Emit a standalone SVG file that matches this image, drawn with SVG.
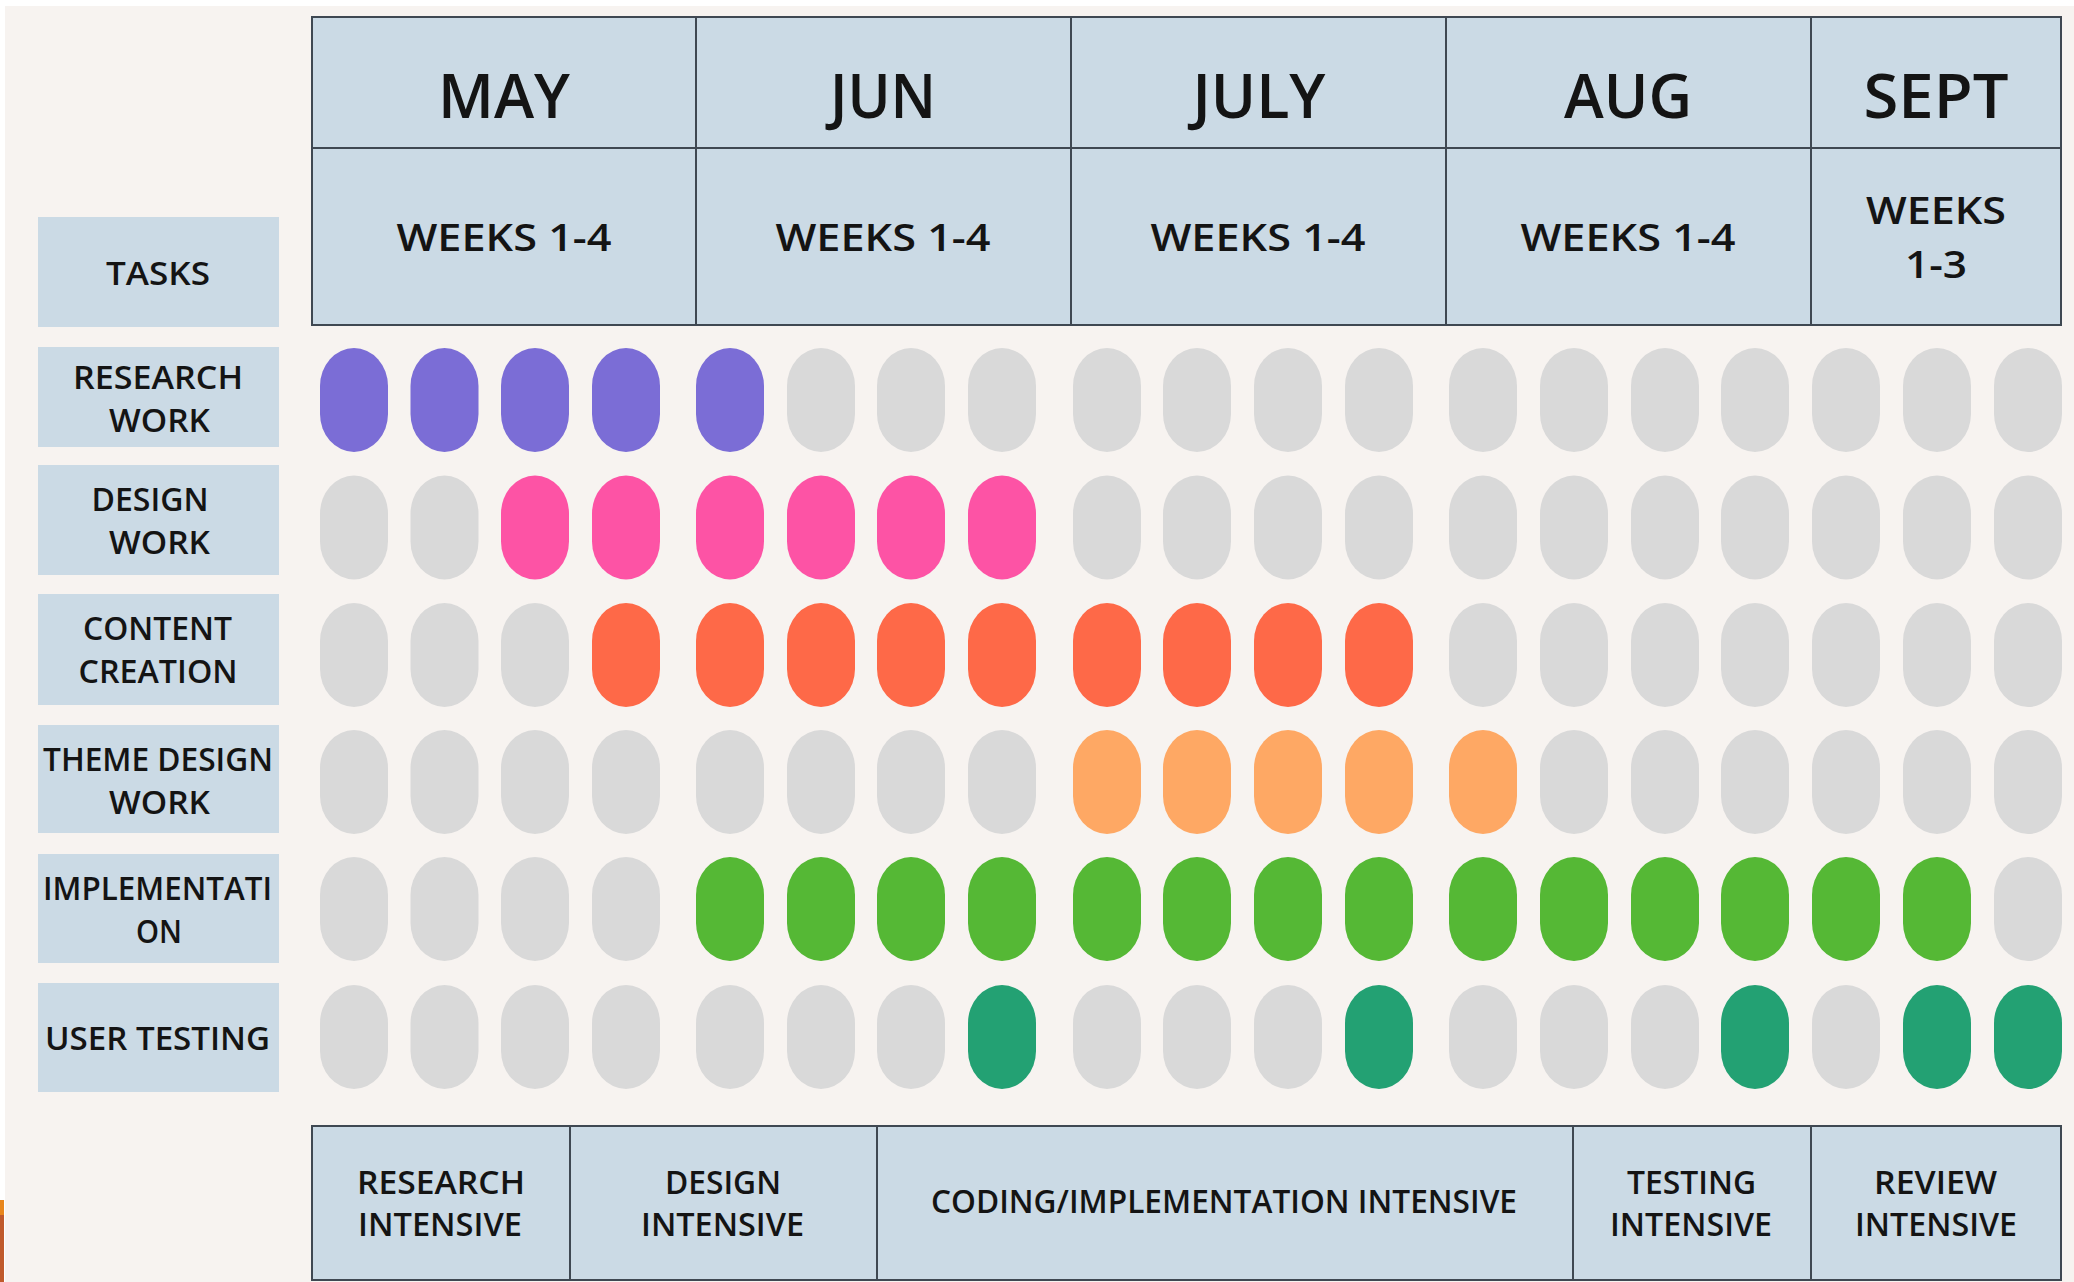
<svg xmlns="http://www.w3.org/2000/svg" width="2074" height="1282" viewBox="0 0 2074 1282">
<style>
.t{font-family:"Open Sans","Noto Sans","Liberation Sans",sans-serif;font-weight:600;fill:#141414;text-anchor:middle}
.m{font-size:61px}
.w{font-size:38px}
.l{font-size:32px}
.cell{fill:#cbdae5}
.grid{stroke:#3f4852;stroke-width:2;fill:none}
.g{fill:#d9d9d9}
.pu{fill:#7b6dd6}
.pk{fill:#fd53a5}
.co{fill:#fe6948}
.or{fill:#fea864}
.gr{fill:#55b835}
.te{fill:#23a173}
</style>
<defs>
<rect id="p" width="68" height="104" rx="34" ry="38"/>
</defs>
<rect x="0" y="0" width="2074" height="1282" fill="#ffffff"/>
<rect x="5" y="6" width="2069" height="1276" fill="#f7f3f0"/>
<rect x="0" y="1200" width="4" height="15" fill="#e8861c"/>
<rect x="0" y="1215" width="4" height="67" fill="#c05a2c"/>

<g id="header">
<rect x="312" y="17" width="1749" height="308" class="cell"/>
<path class="grid" d="M312 17H2061V325H312Z M312 148H2061 M696 17V325 M1071 17V325 M1446 17V325 M1811 17V325"/>
<text class="t m" x="504" y="117.5" textLength="132" lengthAdjust="spacingAndGlyphs">MAY</text>
<text class="t m" x="883" y="117.5" textLength="106" lengthAdjust="spacingAndGlyphs">JUN</text>
<text class="t m" x="1259" y="117.5" textLength="133" lengthAdjust="spacingAndGlyphs">JULY</text>
<text class="t m" x="1628" y="117.5" textLength="128" lengthAdjust="spacingAndGlyphs">AUG</text>
<text class="t m" x="1936" y="117.5" textLength="145" lengthAdjust="spacingAndGlyphs">SEPT</text>
<text class="t w" x="504" y="251" textLength="215" lengthAdjust="spacingAndGlyphs">WEEKS 1-4</text>
<text class="t w" x="883" y="251" textLength="215" lengthAdjust="spacingAndGlyphs">WEEKS 1-4</text>
<text class="t w" x="1258" y="251" textLength="215" lengthAdjust="spacingAndGlyphs">WEEKS 1-4</text>
<text class="t w" x="1628" y="251" textLength="215" lengthAdjust="spacingAndGlyphs">WEEKS 1-4</text>
<text class="t w" x="1936" y="224" textLength="140" lengthAdjust="spacingAndGlyphs">WEEKS</text>
<text class="t w" x="1936" y="278" textLength="62" lengthAdjust="spacingAndGlyphs">1-3</text>
</g>

<g id="tasks-label">
<rect x="38" y="217" width="241" height="110" class="cell"/>
<text class="t l" x="158" y="284.5" textLength="104" lengthAdjust="spacingAndGlyphs">TASKS</text>
</g>

<g id="research-work">
<rect x="38" y="347" width="241" height="100" class="cell"/>
<text class="t l" x="158" y="389" textLength="170" lengthAdjust="spacingAndGlyphs">RESEARCH</text>
<text class="t l" x="159.5" y="432" textLength="101" lengthAdjust="spacingAndGlyphs">WORK</text>
<g transform="translate(0,348)">
<use href="#p" x="320" class="pu"/><use href="#p" x="410.5" class="pu"/><use href="#p" x="501" class="pu"/><use href="#p" x="592" class="pu"/>
<use href="#p" x="696" class="pu"/><use href="#p" x="787" class="g"/><use href="#p" x="877" class="g"/><use href="#p" x="968" class="g"/>
<use href="#p" x="1073" class="g"/><use href="#p" x="1163" class="g"/><use href="#p" x="1254" class="g"/><use href="#p" x="1345" class="g"/>
<use href="#p" x="1449" class="g"/><use href="#p" x="1540" class="g"/><use href="#p" x="1631" class="g"/><use href="#p" x="1721" class="g"/>
<use href="#p" x="1812" class="g"/><use href="#p" x="1903" class="g"/><use href="#p" x="1994" class="g"/>
</g>
</g>

<g id="design-work">
<rect x="38" y="465" width="241" height="110" class="cell"/>
<text class="t l" x="150" y="511" textLength="117" lengthAdjust="spacingAndGlyphs">DESIGN</text>
<text class="t l" x="159.5" y="554" textLength="101" lengthAdjust="spacingAndGlyphs">WORK</text>
<g transform="translate(0,475.5)">
<use href="#p" x="320" class="g"/><use href="#p" x="410.5" class="g"/><use href="#p" x="501" class="pk"/><use href="#p" x="592" class="pk"/>
<use href="#p" x="696" class="pk"/><use href="#p" x="787" class="pk"/><use href="#p" x="877" class="pk"/><use href="#p" x="968" class="pk"/>
<use href="#p" x="1073" class="g"/><use href="#p" x="1163" class="g"/><use href="#p" x="1254" class="g"/><use href="#p" x="1345" class="g"/>
<use href="#p" x="1449" class="g"/><use href="#p" x="1540" class="g"/><use href="#p" x="1631" class="g"/><use href="#p" x="1721" class="g"/>
<use href="#p" x="1812" class="g"/><use href="#p" x="1903" class="g"/><use href="#p" x="1994" class="g"/>
</g>
</g>

<g id="content-creation">
<rect x="38" y="594" width="241" height="111" class="cell"/>
<text class="t l" x="157.5" y="640" textLength="149" lengthAdjust="spacingAndGlyphs">CONTENT</text>
<text class="t l" x="158" y="683" textLength="159" lengthAdjust="spacingAndGlyphs">CREATION</text>
<g transform="translate(0,603)">
<use href="#p" x="320" class="g"/><use href="#p" x="410.5" class="g"/><use href="#p" x="501" class="g"/><use href="#p" x="592" class="co"/>
<use href="#p" x="696" class="co"/><use href="#p" x="787" class="co"/><use href="#p" x="877" class="co"/><use href="#p" x="968" class="co"/>
<use href="#p" x="1073" class="co"/><use href="#p" x="1163" class="co"/><use href="#p" x="1254" class="co"/><use href="#p" x="1345" class="co"/>
<use href="#p" x="1449" class="g"/><use href="#p" x="1540" class="g"/><use href="#p" x="1631" class="g"/><use href="#p" x="1721" class="g"/>
<use href="#p" x="1812" class="g"/><use href="#p" x="1903" class="g"/><use href="#p" x="1994" class="g"/>
</g>
</g>

<g id="theme-design-work">
<rect x="38" y="725" width="241" height="108" class="cell"/>
<text class="t l" x="158" y="771" textLength="230" lengthAdjust="spacingAndGlyphs">THEME DESIGN</text>
<text class="t l" x="159.5" y="814" textLength="101" lengthAdjust="spacingAndGlyphs">WORK</text>
<g transform="translate(0,730)">
<use href="#p" x="320" class="g"/><use href="#p" x="410.5" class="g"/><use href="#p" x="501" class="g"/><use href="#p" x="592" class="g"/>
<use href="#p" x="696" class="g"/><use href="#p" x="787" class="g"/><use href="#p" x="877" class="g"/><use href="#p" x="968" class="g"/>
<use href="#p" x="1073" class="or"/><use href="#p" x="1163" class="or"/><use href="#p" x="1254" class="or"/><use href="#p" x="1345" class="or"/>
<use href="#p" x="1449" class="or"/><use href="#p" x="1540" class="g"/><use href="#p" x="1631" class="g"/><use href="#p" x="1721" class="g"/>
<use href="#p" x="1812" class="g"/><use href="#p" x="1903" class="g"/><use href="#p" x="1994" class="g"/>
</g>
</g>

<g id="implementation">
<rect x="38" y="854" width="241" height="109" class="cell"/>
<text class="t l" x="157.5" y="900" textLength="229" lengthAdjust="spacingAndGlyphs">IMPLEMENTATI</text>
<text class="t l" x="159" y="943" textLength="46" lengthAdjust="spacingAndGlyphs">ON</text>
<g transform="translate(0,857)">
<use href="#p" x="320" class="g"/><use href="#p" x="410.5" class="g"/><use href="#p" x="501" class="g"/><use href="#p" x="592" class="g"/>
<use href="#p" x="696" class="gr"/><use href="#p" x="787" class="gr"/><use href="#p" x="877" class="gr"/><use href="#p" x="968" class="gr"/>
<use href="#p" x="1073" class="gr"/><use href="#p" x="1163" class="gr"/><use href="#p" x="1254" class="gr"/><use href="#p" x="1345" class="gr"/>
<use href="#p" x="1449" class="gr"/><use href="#p" x="1540" class="gr"/><use href="#p" x="1631" class="gr"/><use href="#p" x="1721" class="gr"/>
<use href="#p" x="1812" class="gr"/><use href="#p" x="1903" class="gr"/><use href="#p" x="1994" class="g"/>
</g>
</g>

<g id="user-testing">
<rect x="38" y="983" width="241" height="109" class="cell"/>
<text class="t l" x="157.5" y="1050" textLength="225" lengthAdjust="spacingAndGlyphs">USER TESTING</text>
<g transform="translate(0,985)">
<use href="#p" x="320" class="g"/><use href="#p" x="410.5" class="g"/><use href="#p" x="501" class="g"/><use href="#p" x="592" class="g"/>
<use href="#p" x="696" class="g"/><use href="#p" x="787" class="g"/><use href="#p" x="877" class="g"/><use href="#p" x="968" class="te"/>
<use href="#p" x="1073" class="g"/><use href="#p" x="1163" class="g"/><use href="#p" x="1254" class="g"/><use href="#p" x="1345" class="te"/>
<use href="#p" x="1449" class="g"/><use href="#p" x="1540" class="g"/><use href="#p" x="1631" class="g"/><use href="#p" x="1721" class="te"/>
<use href="#p" x="1812" class="g"/><use href="#p" x="1903" class="te"/><use href="#p" x="1994" class="te"/>
</g>
</g>

<g id="phases">
<rect x="312" y="1126" width="1749" height="154" class="cell"/>
<path class="grid" d="M312 1126H2061V1280H312Z M570 1126V1280 M877 1126V1280 M1573 1126V1280 M1811 1126V1280"/>
<text class="t l" x="441" y="1194" textLength="168" lengthAdjust="spacingAndGlyphs">RESEARCH</text>
<text class="t l" x="440" y="1236" textLength="164" lengthAdjust="spacingAndGlyphs">INTENSIVE</text>
<text class="t l" x="723" y="1194" textLength="116" lengthAdjust="spacingAndGlyphs">DESIGN</text>
<text class="t l" x="722.5" y="1236" textLength="163" lengthAdjust="spacingAndGlyphs">INTENSIVE</text>
<text class="t l" x="1224" y="1213" textLength="586" lengthAdjust="spacingAndGlyphs">CODING/IMPLEMENTATION INTENSIVE</text>
<text class="t l" x="1691.5" y="1194" textLength="129" lengthAdjust="spacingAndGlyphs">TESTING</text>
<text class="t l" x="1691" y="1236" textLength="162" lengthAdjust="spacingAndGlyphs">INTENSIVE</text>
<text class="t l" x="1935.5" y="1194" textLength="123" lengthAdjust="spacingAndGlyphs">REVIEW</text>
<text class="t l" x="1936" y="1236" textLength="162" lengthAdjust="spacingAndGlyphs">INTENSIVE</text>
</g>
</svg>
